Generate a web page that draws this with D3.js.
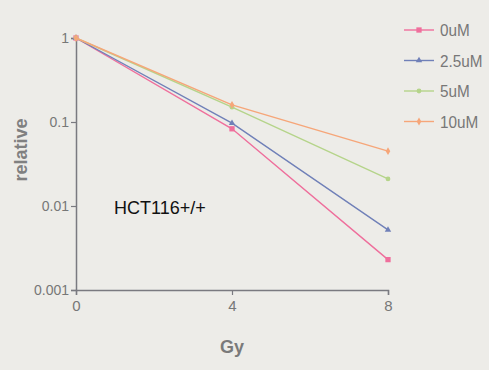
<!DOCTYPE html>
<html>
<head>
<meta charset="utf-8">
<script src="https://cdn.jsdelivr.net/npm/d3@7"></script>
<style>
  body { margin: 0; background: #edece8; }
  svg { display: block; }
</style>
</head>
<body>
<div id="chart"></div>
<script>
const doses = [0, 4, 8];
const seriesNames = ['0uM', '2.5uM', '5uM', '10uM'];
const val0 = [1, 0.083, 0.0023];
const val25 = [1, 0.097, 0.0052];
const val5 = [1, 0.15, 0.021];
const val10 = [1, 0.16, 0.045];
const yTicks = [1, 0.1, 0.01, 0.001];
const yTickLabels = ['1', '0.1', '0.01', '0.001'];
const xTicks = [0, 4, 8];

const colors = ['#ef6f9c', '#7080b8', '#b5d48a', '#f6a679'];
const shapes = [d3.symbolSquare, d3.symbolTriangle, d3.symbolCircle, d3.symbolDiamond];
const series = [val0, val25, val5, val10];

const width = 489, height = 370;
const svg = d3.select('#chart').append('svg')
  .attr('width', width)
  .attr('height', height);

svg.append('rect').attr('width', width).attr('height', height).attr('fill', '#edece8');

const x = d3.scaleLinear().domain([0, 8]).range([76, 388]);
const y = d3.scaleLog().domain([0.001, 1]).range([290, 38]);

const axisColor = '#7a7a80';
const textColor = '#777';
const font = 'Liberation Sans, Arial, sans-serif';

// y axis
const yAxis = svg.append('g')
  .attr('transform', `translate(${x(0)},0)`)
  .call(d3.axisLeft(y).tickValues(yTicks).tickFormat((d, i) => yTickLabels[i]).tickSize(5).tickPadding(2));
yAxis.select('.domain').attr('stroke', axisColor).attr('stroke-width', 1.5);
yAxis.selectAll('.tick line').attr('stroke', axisColor).attr('stroke-width', 1.2);
yAxis.selectAll('.tick text').attr('fill', textColor).attr('font-size', 14).attr('font-family', font);

// x axis
const xAxis = svg.append('g')
  .attr('transform', `translate(0,${y(0.001)})`)
  .call(d3.axisBottom(x).tickValues(xTicks).tickSize(5).tickPadding(5));
xAxis.select('.domain').attr('stroke', axisColor).attr('stroke-width', 1.5);
xAxis.selectAll('.tick line').attr('stroke', axisColor).attr('stroke-width', 1.2);
xAxis.selectAll('.tick text').attr('fill', textColor).attr('font-size', 15).attr('font-family', font);

// axis titles
svg.append('text')
  .attr('transform', 'translate(27,150) rotate(-90)')
  .attr('text-anchor', 'middle')
  .attr('fill', '#808080')
  .attr('font-weight', 'bold')
  .attr('font-size', 18)
  .attr('font-family', font)
  .text('relative');

svg.append('text')
  .attr('x', 232).attr('y', 353)
  .attr('text-anchor', 'middle')
  .attr('fill', '#7a7a7a')
  .attr('font-weight', 'bold')
  .attr('font-size', 18)
  .attr('font-family', font)
  .text('Gy');

svg.append('text')
  .attr('x', 114).attr('y', 214)
  .attr('fill', '#111')
  .attr('font-size', 18)
  .attr('font-family', font)
  .text('HCT116+/+');

// lines and markers
const line = d3.line().x((d, i) => x(doses[i])).y(d => y(d));
series.forEach((vals, s) => {
  svg.append('path')
    .datum(vals)
    .attr('d', line)
    .attr('fill', 'none')
    .attr('stroke', colors[s])
    .attr('stroke-width', 1.4);
  svg.append('g').selectAll('path')
    .data(vals)
    .join('path')
    .attr('transform', (d, i) => `translate(${x(doses[i])},${y(d)})`)
    .attr('d', d3.symbol().type(shapes[s]).size(s === 0 ? 28 : 18))
    .attr('fill', colors[s]);
});

// legend (text squeezed a little like the condensed original)
const legend = svg.append('g');
seriesNames.forEach((name, s) => {
  const ly = 30 + s * 30.5;
  legend.append('line')
    .attr('x1', 404).attr('x2', 434).attr('y1', ly).attr('y2', ly)
    .attr('stroke', colors[s]).attr('stroke-width', 1.4);
  legend.append('path')
    .attr('transform', `translate(419,${ly})`)
    .attr('d', d3.symbol().type(shapes[s]).size(s === 0 ? 28 : 18))
    .attr('fill', colors[s]);
  legend.append('text')
    .attr('transform', `translate(440,${ly + 6}) scale(0.9,1)`)
    .attr('fill', textColor)
    .attr('font-size', 17)
    .attr('font-family', font)
    .text(name);
});
</script>
</body>
</html>
